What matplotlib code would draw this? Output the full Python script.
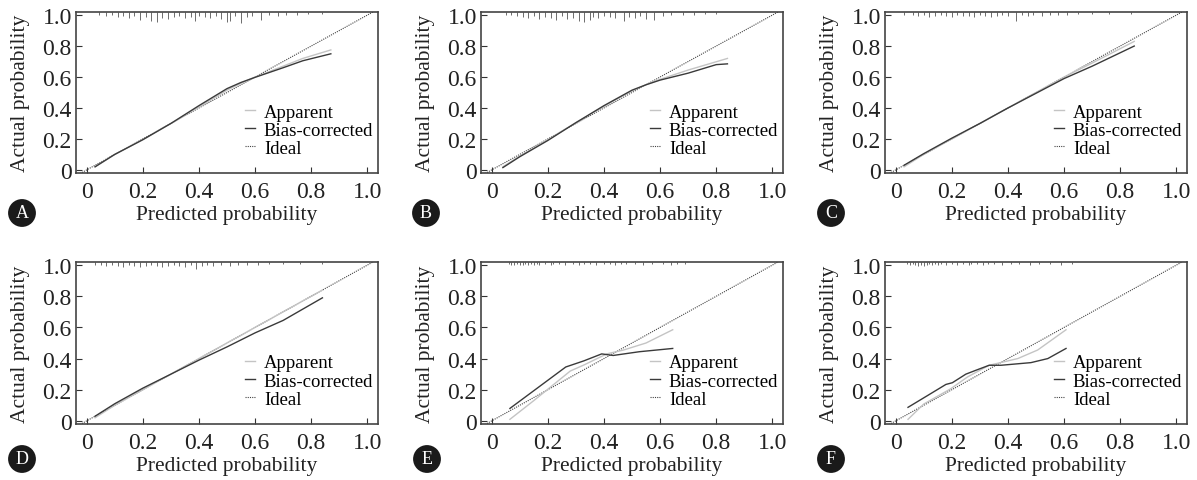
import numpy as np
import matplotlib
matplotlib.use('Agg')
import matplotlib.pyplot as plt
from matplotlib.transforms import blended_transform_factory

plt.rcParams['font.family'] = ['Liberation Serif', 'DejaVu Serif']

PANELS = ['A', 'B', 'C', 'D', 'E', 'F']

# apparent / bias-corrected curves
APP_X = {
    'A': [0.03, 0.10, 0.20, 0.30, 0.40, 0.50, 0.55, 0.60, 0.70, 0.77, 0.87],
    'B': [0.04, 0.10, 0.20, 0.30, 0.40, 0.50, 0.55, 0.60, 0.70, 0.84],
    'C': [0.03, 0.10, 0.20, 0.30, 0.40, 0.50, 0.60, 0.70, 0.85],
    'D': [0.03, 0.10, 0.20, 0.30, 0.40, 0.50, 0.60, 0.70, 0.84],
    'E': [0.065, 0.15, 0.28, 0.33, 0.41, 0.47, 0.55, 0.645],
    'F': [0.044, 0.10, 0.196, 0.256, 0.333, 0.435, 0.506, 0.607],
}
APP_Y = {
    'A': [0.02, 0.10, 0.195, 0.30, 0.405, 0.515, 0.56, 0.60, 0.67, 0.72, 0.775],
    'B': [0.02, 0.09, 0.195, 0.305, 0.41, 0.51, 0.55, 0.585, 0.645, 0.72],
    'C': [0.02, 0.10, 0.20, 0.30, 0.40, 0.50, 0.60, 0.69, 0.83],
    'D': [0.02, 0.10, 0.20, 0.30, 0.40, 0.50, 0.60, 0.70, 0.84],
    'E': [0.01, 0.13, 0.32, 0.36, 0.43, 0.455, 0.50, 0.585],
    'F': [0.01, 0.108, 0.206, 0.282, 0.357, 0.40, 0.455, 0.585],
}
BC_X = {
    'A': [0.03, 0.10, 0.20, 0.30, 0.40, 0.50, 0.55, 0.60, 0.70, 0.77, 0.87],
    'B': [0.04, 0.10, 0.20, 0.30, 0.40, 0.50, 0.55, 0.60, 0.70, 0.80, 0.84],
    'C': [0.03, 0.10, 0.20, 0.30, 0.40, 0.50, 0.60, 0.70, 0.85],
    'D': [0.03, 0.10, 0.20, 0.30, 0.40, 0.50, 0.60, 0.70, 0.84],
    'E': [0.065, 0.264, 0.328, 0.392, 0.433, 0.526, 0.645],
    'F': [0.044, 0.113, 0.179, 0.202, 0.25, 0.286, 0.333, 0.375, 0.482, 0.542, 0.607],
}
BC_Y = {
    'A': [0.02, 0.10, 0.195, 0.30, 0.415, 0.525, 0.565, 0.598, 0.66, 0.705, 0.75],
    'B': [0.015, 0.085, 0.19, 0.305, 0.415, 0.515, 0.55, 0.58, 0.625, 0.68, 0.685],
    'C': [0.03, 0.105, 0.205, 0.30, 0.40, 0.495, 0.59, 0.67, 0.80],
    'D': [0.03, 0.11, 0.21, 0.30, 0.39, 0.475, 0.565, 0.645, 0.79],
    'E': [0.08, 0.346, 0.385, 0.43, 0.42, 0.444, 0.465],
    'F': [0.087, 0.162, 0.234, 0.245, 0.30, 0.325, 0.357, 0.357, 0.374, 0.40, 0.465],
}

# rug of predicted probabilities along the top edge (position, tick length in px)
RUG_X = {
    'A': [0.045, 0.07, 0.09, 0.11, 0.13, 0.15, 0.17, 0.19, 0.21, 0.23, 0.25, 0.27, 0.29, 0.31,
          0.33, 0.35, 0.37, 0.385, 0.40, 0.42, 0.44, 0.46, 0.48, 0.50, 0.51, 0.53, 0.55, 0.57,
          0.59, 0.62, 0.65, 0.68, 0.71, 0.75, 0.79, 0.84],
    'B': [0.05, 0.07, 0.09, 0.11, 0.13, 0.15, 0.17, 0.19, 0.21, 0.23, 0.25, 0.27, 0.29, 0.31,
          0.33, 0.35, 0.36, 0.38, 0.40, 0.42, 0.44, 0.47, 0.49, 0.51, 0.53, 0.55, 0.58, 0.61,
          0.64, 0.68, 0.72, 0.76, 0.80],
    'C': [0.03, 0.06, 0.08, 0.10, 0.12, 0.14, 0.16, 0.18, 0.20, 0.22, 0.24, 0.26, 0.28, 0.30,
          0.32, 0.34, 0.36, 0.38, 0.40, 0.43, 0.45, 0.47, 0.49, 0.52, 0.55, 0.58, 0.61, 0.65,
          0.70, 0.76, 0.84],
    'D': [0.03, 0.05, 0.07, 0.09, 0.11, 0.13, 0.15, 0.17, 0.19, 0.21, 0.23, 0.25, 0.27, 0.29,
          0.31, 0.33, 0.35, 0.37, 0.39, 0.41, 0.43, 0.45, 0.48, 0.51, 0.54, 0.57, 0.61, 0.65,
          0.70, 0.76, 0.84],
    'E': [0.06, 0.07, 0.08, 0.09, 0.10, 0.11, 0.12, 0.13, 0.14, 0.15, 0.16, 0.17, 0.19, 0.21,
          0.22, 0.24, 0.26, 0.29, 0.31, 0.33, 0.35, 0.37, 0.40, 0.42, 0.44, 0.46, 0.48, 0.51,
          0.54, 0.57, 0.61, 0.64, 0.66, 0.69],
    'F': [0.04, 0.05, 0.06, 0.07, 0.08, 0.09, 0.10, 0.11, 0.12, 0.13, 0.14, 0.15, 0.16, 0.18,
          0.20, 0.22, 0.24, 0.26, 0.27, 0.29, 0.31, 0.33, 0.35, 0.38, 0.41, 0.44, 0.48, 0.51,
          0.55, 0.59, 0.63],
}
RUG_H = {
    'A': [3, 4, 3, 5, 4, 6, 4, 8, 5, 9, 10, 6, 7, 5, 4, 6, 5, 9, 4, 5, 6, 4, 7, 10, 9, 4,
          11, 5, 4, 8, 3, 4, 3, 3, 2, 2],
    'B': [3, 3, 4, 5, 6, 4, 7, 5, 6, 8, 4, 7, 6, 9, 10, 8, 5, 6, 4, 5, 6, 9, 5, 6, 4, 7,
          8, 4, 3, 3, 3, 2, 2],
    'C': [3, 3, 4, 3, 5, 4, 3, 4, 5, 3, 4, 4, 5, 3, 4, 5, 4, 3, 4, 9, 3, 4, 3, 4, 3, 3,
          3, 2, 2, 2, 2],
    'D': [3, 3, 4, 3, 4, 5, 3, 4, 5, 4, 3, 4, 5, 4, 3, 4, 5, 3, 7, 4, 3, 4, 3, 4, 3, 3,
          3, 2, 2, 2, 2],
    'E': [2, 3, 3, 2, 3, 3, 2, 3, 2, 3, 2, 3, 2, 3, 2, 2, 3, 2, 3, 2, 2, 3, 2, 2, 3, 2,
          2, 2, 3, 2, 2, 3, 2, 2],
    'F': [2, 3, 2, 3, 4, 3, 4, 3, 2, 3, 2, 3, 2, 3, 2, 3, 2, 3, 2, 2, 3, 2, 2, 3, 2, 2,
          3, 2, 2, 3, 2],
}

TICKS = [0, 0.2, 0.4, 0.6, 0.8, 1.0]
TICK_LABELS = ['0', '0.2', '0.4', '0.6', '0.8', '1.0']

W, H = 1197, 481
# axes boxes in pixels: left, top, width, height
BOXES = {
    'A': (76, 13, 302, 161), 'B': (481, 13, 302, 161), 'C': (885, 13, 302, 161),
    'D': (76, 263, 302, 162), 'E': (481, 263, 302, 162), 'F': (885, 263, 302, 162),
}
BADGES = {
    'A': (22, 214), 'B': (426, 214), 'C': (831, 214),
    'D': (22, 460), 'E': (427, 460), 'F': (831, 460),
}


def draw_panel(fig, key):
    left, top, w, h = BOXES[key]
    ax = fig.add_axes([left / W, 1 - (top + h) / H, w / W, h / H])
    ax.plot([-0.1, 1.1], [-0.1, 1.1], ls=(0, (1.0, 1.0)), color='#444444', lw=0.8,
            label='Ideal', zorder=2)
    ax.plot(APP_X[key], APP_Y[key], color='#c4c4c4', lw=1.0, label='Apparent', zorder=3)
    ax.plot(BC_X[key], BC_Y[key], color='#3a3a3a', lw=1.0, label='Bias-corrected', zorder=4)

    trans = blended_transform_factory(ax.transData, ax.transAxes)
    lengths = [v / h for v in RUG_H[key]]
    ax.vlines(RUG_X[key], [1 - l for l in lengths], 1, transform=trans,
              color='#555555', lw=0.6)

    ax.set_xlim(-0.038, 1.038)
    ax.set_ylim(-0.02, 1.02)
    ax.set_xticks(TICKS)
    ax.set_xticklabels(TICK_LABELS)
    ax.set_yticks(TICKS)
    ax.set_yticklabels(TICK_LABELS)
    ax.tick_params(axis='both', direction='in', length=4, width=0.8, colors='#333333',
                   labelsize=17, labelcolor='#222222')
    ax.tick_params(axis='x', pad=6)
    ax.tick_params(axis='y', pad=3)
    for sp in ax.spines.values():
        sp.set_color('#444444')
        sp.set_linewidth(1.2)
    ax.set_xlabel('Predicted probability', fontsize=15.5, color='#222222', labelpad=2)
    ax.set_ylabel('Actual probability', fontsize=15.5, color='#222222', labelpad=9)

    handles, labels = ax.get_legend_handles_labels()
    order = [1, 2, 0]
    ax.legend([handles[i] for i in order], [labels[i] for i in order],
              loc='upper left', bbox_to_anchor=(0.56, 0.43), frameon=False,
              fontsize=13.5, handlelength=0.55, handletextpad=0.45, labelspacing=0.05,
              borderpad=0, borderaxespad=0)

    bx, by = BADGES[key]
    fig.text(bx / W, 1 - by / H, key, ha='center', va='center', color='white',
             fontsize=13, bbox=dict(boxstyle='circle,pad=0.3', fc='#1a1a1a', ec='none'))
    return ax


def main():
    fig = plt.figure(figsize=(W / 100, H / 100), dpi=100)
    for key in PANELS:
        draw_panel(fig, key)
    fig.savefig('out.png', dpi=100)
    plt.close(fig)


if __name__ == '__main__':
    main()
